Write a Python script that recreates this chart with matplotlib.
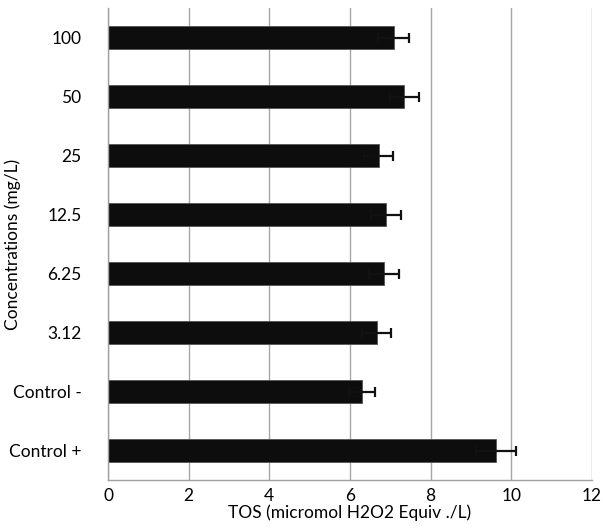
import numpy as np
import matplotlib
matplotlib.use("Agg")
import matplotlib.pyplot as plt

plt.rcParams['font.family'] = ['Lato', 'DejaVu Sans']

# データ (下から上へ)
labels = ["Control +", "Control -", "3.12", "6.25", "12.5", "25", "50", "100"]
tos = [9.62, 6.30, 6.66, 6.85, 6.89, 6.71, 7.35, 7.08]
err = [0.50, 0.33, 0.36, 0.37, 0.37, 0.36, 0.36, 0.38]
xticks = [0, 2, 4, 6, 8, 10, 12]

fig = plt.figure(figsize=(6.03, 5.31), dpi=100)
ax = fig.add_axes([108/603, 51/531, 484/603, 472/531])

y = np.arange(len(labels))
ax.barh(y, tos, height=0.39, color='#0d0d0d', edgecolor='#555555', linewidth=0.6, zorder=2)
ax.errorbar(tos, y, xerr=err, fmt='none', ecolor='#111111', elinewidth=1.6,
            capsize=3.5, capthick=1.6, zorder=3)

ax.set_xlim(0, 12)
ax.set_ylim(-0.5, len(labels) - 0.5)
ax.set_xticks(xticks)
ax.set_xticklabels([str(t) for t in xticks], fontsize=12.5)
ax.set_yticks(y)
ax.set_yticklabels(labels, fontsize=12.5)
ax.tick_params(axis='both', length=0)
ax.tick_params(axis='y', pad=19)
ax.tick_params(axis='x', pad=6)

ax.grid(axis='x', color='#a6a6a6', linewidth=1.0, zorder=0)
for s in ['top', 'right']:
    ax.spines[s].set_visible(False)
for s in ['left', 'bottom']:
    ax.spines[s].set_color('#a0a0a0')
    ax.spines[s].set_linewidth(1.0)

ax.set_xlabel("TOS (micromol H2O2 Equiv ./L)", fontsize=12.5, labelpad=0)
ax.set_ylabel("Concentrations (mg/L)", fontsize=12.5)
ax.yaxis.set_label_coords(-0.18, 0.5)

plt.savefig('out.png', dpi=100)
